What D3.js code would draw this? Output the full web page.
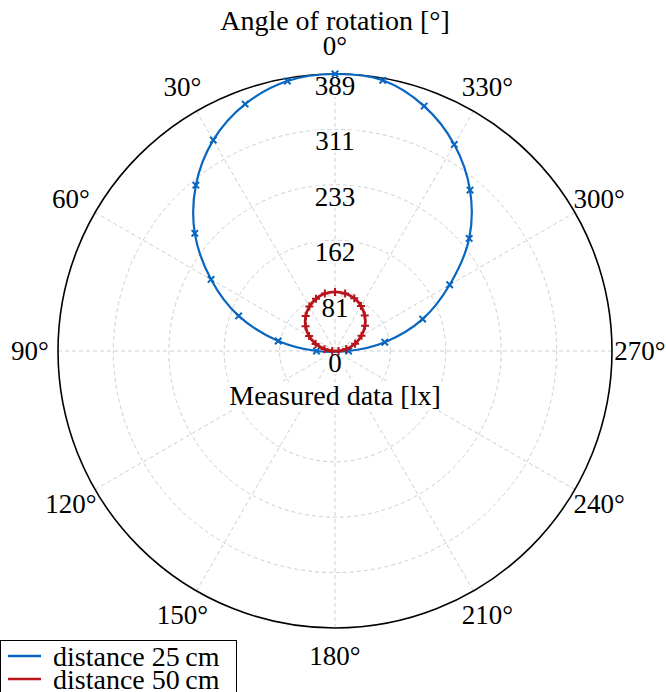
<!DOCTYPE html>
<html>
<head>
<meta charset="utf-8">
<script src="https://cdn.jsdelivr.net/npm/d3@7"></script>
<style>
  body { margin: 0; background: #fff; }
</style>
</head>
<body>
<div id="chart"></div>
<script>
// measurement angles (deg, counter-clockwise from top)
var angles = [-90, -80, -70, -60, -50, -40, -30, -20, -10, 0, 10, 20, 30, 40, 50, 60, 70, 80, 90]
// illuminance [lx]
var dist25 = [19, 71, 131, 186, 246, 295, 335, 366, 386, 389, 385, 369, 342, 304, 257, 201, 144, 81, 26]
var dist50 = [5, 16, 30, 43, 55, 65, 73, 79, 82, 83, 82, 78, 72, 64, 54, 42, 29, 15, 4]

var angleTicks = [0, 30, 60, 90, 120, 150, 180, 210, 240, 270, 300, 330]
var radialTickLabels = ["0", "81", "162", "233", "311", "389"]
var seriesNames = ["distance 25\u2009cm", "distance 50\u2009cm"]

var width = 666, height = 692
var cx = 335, cy = 351, R = 277
var rMax = 389
var serif = "'Liberation Serif', 'DejaVu Serif', 'Times New Roman', serif"

var blue = "#0866c0", red = "#b8141c"

var svg = d3.select('#chart')
    .append('svg')
    .attr("width", width)
    .attr("height", height)
    .attr("font-family", serif)

var r = d3.scaleLinear().domain([0, rMax]).range([0, R])
var rad = function(deg) { return -deg * Math.PI / 180 }
var px = function(deg, v) { return cx - r(v) * Math.sin(deg * Math.PI / 180) }
var py = function(deg, v) { return cy - r(v) * Math.cos(deg * Math.PI / 180) }

var radialTicks = d3.range(radialTickLabels.length).map(function(i) { return i * rMax / (radialTickLabels.length - 1) })

// grid
var grid = svg.append("g").attr("class", "grid")
grid.selectAll("circle")
    .data(radialTicks.slice(1, -1))
    .enter().append("circle")
    .attr("cx", cx).attr("cy", cy)
    .attr("r", function(d) { return r(d) })
    .attr("fill", "none")
    .style("stroke", "#cfcfcf")
    .style("stroke-width", 1)
    .style("stroke-dasharray", "4,3")

grid.selectAll("line")
    .data(angleTicks)
    .enter().append("line")
    .attr("x1", cx).attr("y1", cy)
    .attr("x2", function(d) { return px(d, rMax) })
    .attr("y2", function(d) { return py(d, rMax) })
    .style("stroke", "#cfcfcf")
    .style("stroke-width", 1)
    .style("stroke-dasharray", "4,3")

// outer circle
svg.append("circle")
    .attr("cx", cx).attr("cy", cy).attr("r", R)
    .attr("fill", "none")
    .style("stroke", "#000")
    .style("stroke-width", 1.6)

// angle labels
svg.append("g").selectAll("text")
    .data(angleTicks)
    .enter().append("text")
    .attr("x", function(d) { return cx - (R + 28) * Math.sin(d * Math.PI / 180) })
    .attr("y", function(d) { return cy - (R + 28) * Math.cos(d * Math.PI / 180) })
    .attr("text-anchor", "middle")
    .attr("dominant-baseline", "central")
    .attr("font-family", serif)
    .style("font-size", "27px")
    .text(function(d) { return d + "\u00b0" })

// radial labels with white background
var rl = svg.append("g").selectAll("g")
    .data(radialTicks)
    .enter().append("g")
    .attr("transform", function(d) { return "translate(" + cx + "," + (py(0, d) + 12) + ")" })
rl.append("rect")
    .attr("x", function(d, i) { return -radialTickLabels[i].length * 7 - 2 })
    .attr("y", -11)
    .attr("width", function(d, i) { return radialTickLabels[i].length * 14 + 4 })
    .attr("height", 22)
    .attr("fill", "#fff")
rl.append("text")
    .attr("text-anchor", "middle")
    .attr("dominant-baseline", "central")
    .attr("font-family", serif)
    .style("font-size", "27px")
    .text(function(d, i) { return radialTickLabels[i] })

// axis titles
svg.append("text")
    .attr("x", cx).attr("y", 20)
    .attr("text-anchor", "middle")
    .attr("dominant-baseline", "central")
    .attr("font-family", serif)
    .style("font-size", "28px")
    .text("Angle of rotation [\u00b0]")

var yt = svg.append("g").attr("transform", "translate(" + cx + ",395)")
yt.append("rect").attr("x", -112).attr("y", -13).attr("width", 224).attr("height", 27).attr("fill", "#fff")
yt.append("text")
    .attr("text-anchor", "middle")
    .attr("dominant-baseline", "central")
    .attr("font-family", serif)
    .style("font-size", "28px")
    .text("Measured data [lx]")

// data
var series = [
  { name: seriesNames[0], values: dist25, color: blue, marker: "x", width: 2.2 },
  { name: seriesNames[1], values: dist50, color: red, marker: "+", width: 2.8 }
]

var line = d3.lineRadial()
    .angle(function(d) { return rad(d.a) })
    .radius(function(d) { return r(d.v) })
    .curve(d3.curveCatmullRomClosed)

series.forEach(function(s) {
  var pts = angles.map(function(a, i) { return { a: a, v: s.values[i] } })
  var g = svg.append("g")
  g.append("path")
      .datum(pts)
      .attr("transform", "translate(" + cx + "," + cy + ")")
      .attr("d", line)
      .attr("fill", "none")
      .style("stroke", s.color)
      .style("stroke-width", s.width)

  var m = 3.2
  var path = s.marker == "x"
    ? "M" + (-m) + "," + (-m) + "L" + m + "," + m + "M" + (-m) + "," + m + "L" + m + "," + (-m)
    : "M" + (-m - 0.8) + ",0L" + (m + 0.8) + ",0M0," + (-m - 0.8) + "L0," + (m + 0.8)
  g.selectAll(".mk")
      .data(pts)
      .enter().append("path")
      .attr("class", "mk")
      .attr("transform", function(d) { return "translate(" + px(d.a, d.v) + "," + py(d.a, d.v) + ")" })
      .attr("d", path)
      .style("stroke", s.color)
      .style("stroke-width", 2)
})

// legend
var lg = svg.append("g")
lg.append("rect")
    .attr("x", 0.5).attr("y", 640.5)
    .attr("width", 236).attr("height", 60)
    .attr("fill", "#fff")
    .style("stroke", "#000")
    .style("stroke-width", 1)
series.forEach(function(s, i) {
  var y = 656 + i * 23
  lg.append("line")
      .attr("x1", 8).attr("x2", 41)
      .attr("y1", y).attr("y2", y)
      .style("stroke", s.color)
      .style("stroke-width", 2.4)
  lg.append("text")
      .attr("x", 53).attr("y", y + 10)
      .attr("font-family", serif)
      .style("font-size", "28px")
      .text(s.name)
})
</script>
</body>
</html>
